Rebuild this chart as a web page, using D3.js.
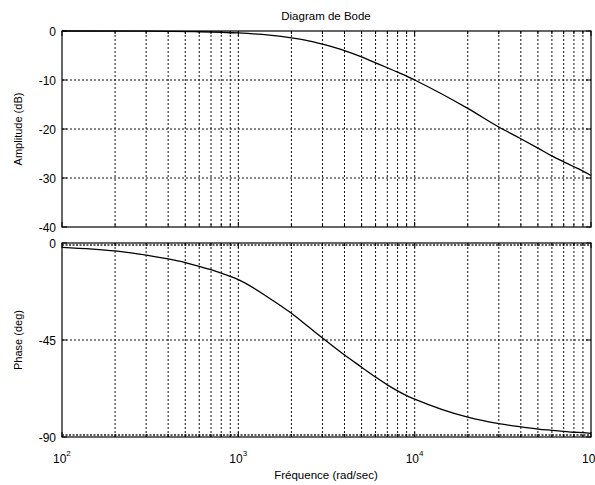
<!DOCTYPE html>
<html><head><meta charset="utf-8">
<script src="https://cdn.jsdelivr.net/npm/d3@7"></script>
<style>body{margin:0;background:#fff}svg{display:block}text{font-family:"Liberation Sans",Arial,sans-serif;fill:#000}</style>
</head><body><svg id="c" width="595" height="485"></svg>
<script>
// ---- data ----
const title = "Diagram de Bode";
const xLabel = "Fréquence (rad/sec)";
const ampLabel = "Amplitude (dB)";
const phaseLabel = "Phase (deg)";
const xTickExps = [2, 3, 4, 5];
const ampTicks = [0, -10, -20, -30, -40];
const phaseTicks = [0, -45, -90];
const ampFreq = [100, 300, 600, 1000, 1500, 2000, 2500, 3000, 4000, 5000, 6000, 7000, 8000, 9000, 10000, 20000, 30000, 40000, 50000, 60000, 70000, 80000, 90000, 100000];
const ampDb   = [0, -0.04, -0.15, -0.4, -0.85, -1.4, -2.0, -2.7, -4.0, -5.3, -6.5, -7.5, -8.4, -9.2, -10.0, -15.8, -19.6, -22.0, -23.9, -25.5, -26.7, -27.7, -28.6, -29.5];
const phFreq  = [100, 200, 300, 400, 500, 600, 700, 800, 900, 1000, 1500, 2000, 2500, 3000, 4000, 5000, 6000, 7000, 8000, 9000, 10000, 20000, 30000, 40000, 50000, 60000, 70000, 80000, 90000, 100000];
const phDeg   = [-2.0, -3.7, -5.6, -7.4, -9.1, -10.8, -12.4, -14.0, -15.5, -17.0, -25.6, -32.6, -38.9, -44.1, -52.0, -57.6, -62.2, -65.8, -68.6, -70.8, -72.4, -80.8, -83.8, -85.3, -86.3, -86.9, -87.4, -87.8, -88.0, -88.3];

// ---- layout ----
const svg = d3.select("#c");
const x = d3.scaleLog().domain([1e2, 1e5]).range([62, 591]);
const yA = d3.scaleLinear().domain([-40, 0]).range([227, 31]);
const yP = d3.scaleLinear().domain([-90, 0]).range([437, 243]);

const minor = [];
for (let e = 2; e < 5; e++) for (let m = 2; m <= 9; m++) minor.push(m * Math.pow(10, e));
const majors = xTickExps.map(e => Math.pow(10, e));

function panel(y, yTicks, freq, vals, label, showX) {
  const [y0, y1] = y.range(); // bottom, top
  const g = svg.append("g");
  g.selectAll("line.vg").data(minor.concat(majors.slice(1, -1))).enter().append("line")
    .attr("x1", d => x(d)).attr("x2", d => x(d)).attr("y1", y1).attr("y2", y0)
    .attr("stroke", "#111").attr("stroke-width", 1).attr("stroke-dasharray", "2,2");
  g.selectAll("line.hg").data(yTicks.slice(1, -1)).enter().append("line")
    .attr("x1", 62).attr("x2", 591).attr("y1", d => y(d)).attr("y2", d => y(d))
    .attr("stroke", "#111").attr("stroke-width", 1).attr("stroke-dasharray", "2,2");
  if (showX) {
    [y(yTicks[0]) + 2, y(yTicks[yTicks.length - 1]) - 2].forEach(yy => {
      g.append("line").attr("x1", 62).attr("x2", 591).attr("y1", yy).attr("y2", yy)
        .attr("stroke", "#222").attr("stroke-width", 1.5).attr("stroke-dasharray", "2,1.5");
    });
  }
  const tk = g.append("g").attr("stroke", "#000").attr("stroke-width", 1);
  minor.concat(majors).forEach(d => {
    const L = majors.includes(d) ? 5 : 3;
    tk.append("line").attr("x1", x(d)).attr("x2", x(d)).attr("y1", y0).attr("y2", y0 - L);
    tk.append("line").attr("x1", x(d)).attr("x2", x(d)).attr("y1", y1).attr("y2", y1 + L);
  });
  yTicks.forEach(d => {
    tk.append("line").attr("x1", 62).attr("x2", 67).attr("y1", y(d)).attr("y2", y(d));
    tk.append("line").attr("x1", 586).attr("x2", 591).attr("y1", y(d)).attr("y2", y(d));
  });
  const line = d3.line().x((d, i) => x(freq[i])).y(d => y(d)).curve(d3.curveMonotoneX);
  g.append("path").datum(vals).attr("d", line).attr("fill", "none").attr("stroke", "#000").attr("stroke-width", 1.3);
  g.append("rect").attr("x", 62).attr("y", y1).attr("width", 591 - 62).attr("height", y0 - y1)
    .attr("fill", "none").attr("stroke", "#000").attr("stroke-width", 1.2);
  g.selectAll("text.yt").data(yTicks).enter().append("text")
    .attr("x", 56).attr("y", d => y(d) + 4.5).attr("text-anchor", "end").attr("font-size", 12)
    .text(d => d);
  g.append("text").attr("transform", `translate(22,${(y0 + y1) / 2}) rotate(-90)`)
    .attr("text-anchor", "middle").attr("font-size", 11).text(label);
  if (showX) {
    majors.forEach((d, i) => {
      const t = g.append("text").attr("x", x(d) - 9).attr("y", 463).attr("font-size", 12);
      t.append("tspan").text("10");
      t.append("tspan").attr("font-size", 8).attr("dy", -7).text(xTickExps[i]);
    });
  }
}

panel(yA, ampTicks, ampFreq, ampDb, ampLabel, false);
panel(yP, phaseTicks, phFreq, phDeg, phaseLabel, true);

svg.append("text").attr("x", 326).attr("y", 20).attr("text-anchor", "middle").attr("font-size", 11.5).text(title);
svg.append("text").attr("x", 326).attr("y", 479).attr("text-anchor", "middle").attr("font-size", 11.5).text(xLabel);
</script></body></html>
